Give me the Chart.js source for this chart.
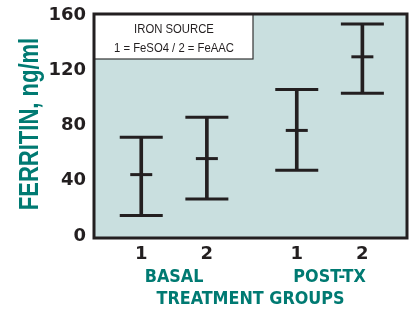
<!DOCTYPE html>
<html>
<head>
<meta charset="utf-8">
<script src="https://cdn.jsdelivr.net/npm/chart.js@4.4.0/dist/chart.umd.min.js"></script>
<style>
  html, body { margin: 0; padding: 0; background: #fff; overflow: hidden; }
  canvas { display: block; }
</style>
</head>
<body>
<canvas id="ferritin-chart" width="409" height="314"></canvas>
<script>
// values
const xPositions = [1, 2, 3.37, 4.37];
const tickLabels = ['1', '2', '1', '2'];
const meanValues = [44.4, 56, 76.4, 129.7];
const lowValues = [14.8, 26.7, 47.5, 103.3];
const highValues = [71.5, 86, 106, 153.5];
const groupNames = ['BASAL', 'POST-TX'];
const groupCenters = [1.5, 3.87];
const yTicks = [0, 40, 80, 120, 160];
const legendLines = ['IRON SOURCE', '1 = FeSO4 / 2 = FeAAC'];
const yTitle = 'FERRITIN, ng/ml';

const teal = '#007a72';
const ink = '#231f20';
const panel = '#c9dfdf';
const tickFont = { family: '"DejaVu Sans", sans-serif', size: 18, weight: 'bold' };
const groupFont = 'bold 17.8px "DejaVu Sans Condensed", "DejaVu Sans", sans-serif';

function xy(values) {
    return xPositions.map(function (x, i) { return { x: x, y: values[i] }; });
}

function noPadding(scale) {
    scale.paddingTop = 0;
    scale.paddingBottom = 0;
    scale.paddingLeft = 0;
    scale.paddingRight = 0;
}

let rangeData = xPositions.map(function (x, i) {
    return { x: x, y: [lowValues[i], highValues[i]] };
});

// narrow text: no condensed face installed, so squeeze horizontally
function narrowText(ctx, text, x, y, squeeze) {
    ctx.save();
    ctx.translate(x, y);
    ctx.scale(squeeze, 1);
    ctx.fillText(text, 0, 0);
    ctx.restore();
}

let panelPlugin = {
    id: 'panel',
    beforeDatasetsDraw: function (chart) {
        let ctx = chart.ctx;
        let a = chart.chartArea;
        ctx.save();
        ctx.fillStyle = panel;
        ctx.fillRect(a.left, a.top, a.right - a.left, a.bottom - a.top);
        // iron source box
        ctx.fillStyle = '#fff';
        ctx.fillRect(a.left, a.top, 159, 45);
        ctx.strokeStyle = '#333';
        ctx.lineWidth = 1.2;
        ctx.strokeRect(a.left, a.top, 159, 45);
        ctx.fillStyle = ink;
        ctx.font = '13px "Liberation Sans", Arial, sans-serif';
        ctx.textAlign = 'center';
        ctx.textBaseline = 'middle';
        narrowText(ctx, legendLines[0], a.left + 80, a.top + 15, 0.87);
        narrowText(ctx, legendLines[1], a.left + 80, a.top + 34, 0.87);
        ctx.restore();
    },
    afterDatasetsDraw: function (chart) {
        let ctx = chart.ctx;
        let a = chart.chartArea;
        ctx.save();
        ctx.strokeStyle = ink;
        ctx.lineWidth = 3;
        ctx.strokeRect(a.left, a.top, a.right - a.left, a.bottom - a.top);
        ctx.restore();
    },
    afterDraw: function (chart) {
        let ctx = chart.ctx;
        let xs = chart.scales.x;
        ctx.save();
        ctx.fillStyle = teal;
        ctx.font = groupFont;
        ctx.textAlign = 'center';
        ctx.textBaseline = 'middle';
        groupNames.forEach(function (name, i) {
            ctx.fillText(name, xs.getPixelForValue(groupCenters[i]), 277);
        });
        // y axis title, rotated and condensed
        ctx.font = 'bold 27.5px "Liberation Sans", Arial, sans-serif';
        ctx.translate(30, 124);
        ctx.rotate(-Math.PI / 2);
        narrowText(ctx, yTitle, 0, 0, 0.8);
        ctx.restore();
    }
};

let canvas = document.getElementById('ferritin-chart');
new Chart(canvas.getContext('2d'), {
    type: 'bar',
    data: {
        datasets: [{
            type: 'bar',
            data: rangeData,
            backgroundColor: ink,
            borderWidth: 0,
            barThickness: 3,
            grouped: false,
            order: 3
        }, {
            type: 'line',
            data: xy(highValues),
            showLine: false,
            pointStyle: 'line',
            pointRadius: 21.5,
            pointBorderWidth: 3,
            borderColor: ink,
            pointBorderColor: ink,
            order: 2
        }, {
            type: 'line',
            data: xy(lowValues),
            showLine: false,
            pointStyle: 'line',
            pointRadius: 21.5,
            pointBorderWidth: 3,
            borderColor: ink,
            pointBorderColor: ink,
            order: 2
        }, {
            type: 'line',
            data: xy(meanValues),
            showLine: false,
            pointStyle: 'line',
            pointRadius: 11,
            pointBorderWidth: 3,
            borderColor: ink,
            pointBorderColor: ink,
            order: 1
        }]
    },
    options: {
        responsive: false,
        animation: false,
        layout: { autoPadding: false, padding: { left: 0, right: 2, top: 14, bottom: 0 } },
        plugins: {
            legend: { display: false },
            tooltip: { enabled: false }
        },
        scales: {
            x: {
                type: 'linear',
                min: 0.28,
                max: 5.05,
                offset: false,
                grid: { display: false, drawTicks: false },
                border: { display: false },
                afterBuildTicks: function (scale) {
                    scale.ticks = xPositions.map(function (v) { return { value: v }; });
                },
                afterFit: function (scale) { scale.height = 76; noPadding(scale); },
                ticks: {
                    autoSkip: false,
                    maxRotation: 0,
                    padding: 6,
                    color: ink,
                    font: tickFont,
                    callback: function (value, index) { return tickLabels[index]; }
                },
                title: {
                    display: true,
                    text: 'TREATMENT GROUPS',
                    color: teal,
                    padding: { top: 0, bottom: 3.5 },
                    font: { family: '"DejaVu Sans Condensed", "DejaVu Sans", sans-serif', size: 17.8, weight: 'bold' }
                }
            },
            y: {
                min: -1.5,
                max: 160.7,
                grid: { display: false, drawTicks: false },
                border: { display: false },
                afterBuildTicks: function (scale) {
                    scale.ticks = yTicks.map(function (v) { return { value: v }; });
                },
                afterFit: function (scale) { scale.width = 94; noPadding(scale); },
                ticks: {
                    padding: 8,
                    color: ink,
                    font: tickFont
                }
            }
        }
    },
    plugins: [panelPlugin]
});
</script>
</body>
</html>
